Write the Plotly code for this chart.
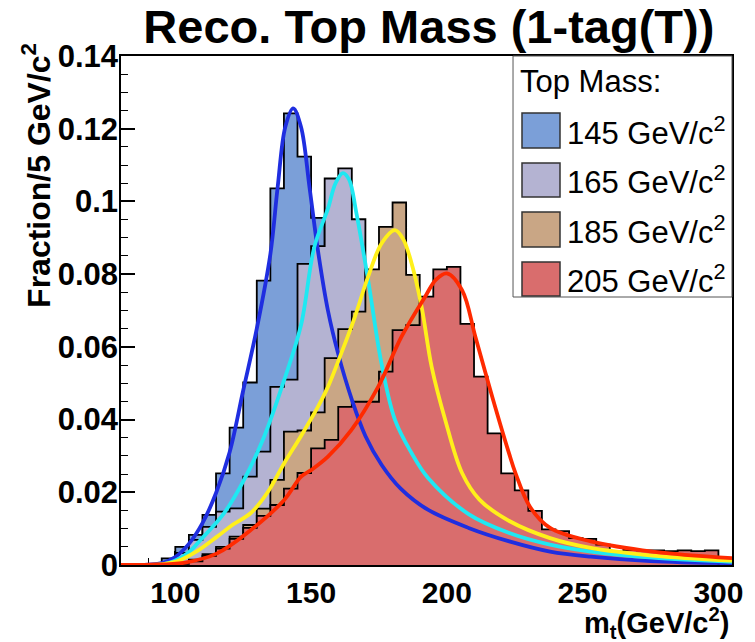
import plotly.graph_objects as go

# ---------------- data ----------------
bin_edges_start = 80
bin_width = 5
# bin contents (Fraction / 5 GeV), bins starting at 80, 85, ..., 295
h145 = [0, 0, 0.0003, 0.0018, 0.005, 0.0083, 0.0138, 0.0252, 0.0378, 0.0502,
        0.0782, 0.1036, 0.1242, 0.1123, 0.0955, 0.072, 0.055, 0.042, 0.031, 0.024,
        0.019, 0.0155, 0.013, 0.011, 0.009, 0.0075, 0.0062, 0.0052, 0.0044, 0.0037,
        0.0031, 0.0026, 0.0022, 0.0019, 0.0016, 0.0014, 0.0012, 0.001, 0.0009, 0.0008,
        0.0007, 0.0006, 0.0005, 0.0005]
h165 = [0, 0, 0, 0.0005, 0.0033, 0.0069, 0.0105, 0.0147, 0.0156, 0.0243,
        0.0312, 0.049, 0.051, 0.0828, 0.0877, 0.1063, 0.1091, 0.0951, 0.075, 0.055,
        0.041, 0.031, 0.024, 0.019, 0.0155, 0.0128, 0.0105, 0.0088, 0.0073, 0.0061,
        0.0051, 0.0043, 0.0036, 0.003, 0.0026, 0.0022, 0.0019, 0.0016, 0.0014, 0.0012,
        0.001, 0.0009, 0.0008, 0.0007]
h185 = [0, 0, 0, 0, 0.0005, 0.0015, 0.003, 0.005, 0.0078, 0.011,
        0.0155, 0.0234, 0.0367, 0.037, 0.042, 0.0569, 0.0649, 0.0697, 0.0813, 0.093,
        0.0997, 0.0798, 0.062, 0.046, 0.034, 0.026, 0.02, 0.0158, 0.0127, 0.0103,
        0.0085, 0.007, 0.0058, 0.0048, 0.004, 0.0034, 0.0029, 0.0025, 0.0021, 0.0018,
        0.0016, 0.0014, 0.0012, 0.0011]
h205 = [0, 0, 0, 0, 0.0003, 0.001, 0.0025, 0.0045, 0.0072, 0.0102,
        0.0135, 0.0165, 0.021, 0.0253, 0.0321, 0.0344, 0.0435, 0.0449, 0.0449, 0.0532,
        0.0646, 0.066, 0.0738, 0.0813, 0.082, 0.0663, 0.0518, 0.0362, 0.0252, 0.0205,
        0.0149, 0.0098, 0.0093, 0.0074, 0.0072, 0.0056, 0.0037, 0.0042, 0.004, 0.004,
        0.0038, 0.004, 0.0038, 0.004]

# fitted curves
f145_x = [80, 90, 95, 100, 105, 110, 115, 120, 125, 130, 135, 137.7, 140.5, 143.4, 146.3,
          149.4, 152.5, 156.2, 160, 165, 170, 176, 183, 193, 208, 223, 238, 253, 275, 305]
f145_y = [0, 0.0001, 0.0005, 0.0022, 0.0058, 0.0115, 0.0198, 0.031, 0.048, 0.065, 0.0855,
          0.104, 0.1205, 0.1256, 0.1205, 0.104, 0.0866, 0.07, 0.058, 0.0455, 0.0355, 0.0275,
          0.021, 0.0152, 0.0102, 0.0065, 0.0037, 0.0023, 0.0011, 0.0005]
f165_x = [80, 95, 99.4, 105, 109.3, 117.9, 125.3, 132.7, 140.1, 146.3, 151.2, 156.2, 159,
          161.7, 164, 166.7, 171, 175.9, 180.9, 187, 193, 208, 223, 238, 253, 275.7, 305]
f165_y = [0, 0.0002, 0.001, 0.0035, 0.0069, 0.0142, 0.0234, 0.0353, 0.0509, 0.066, 0.0875,
          0.098, 0.105, 0.1078, 0.106, 0.0967, 0.0784, 0.0555, 0.0399, 0.0308, 0.024, 0.014,
          0.0088, 0.0056, 0.0037, 0.002, 0.0009]
f185_x = [80, 95, 100.6, 108, 115.4, 121, 127.8, 134, 140.1, 146.3, 152.5, 156.2, 161.1, 166,
          171, 176, 180.9, 184, 187, 190.7, 194.4, 199.4, 205.6, 212, 223, 238, 253, 275.7, 305]
f185_y = [0, 0.0002, 0.001, 0.0038, 0.0078, 0.011, 0.0143, 0.02, 0.028, 0.0355, 0.0435, 0.049,
          0.0582, 0.068, 0.0793, 0.0885, 0.0921, 0.0895, 0.083, 0.071, 0.0545, 0.0399, 0.0253,
          0.018, 0.0121, 0.0074, 0.0047, 0.0026, 0.0012]
f205_x = [80, 90.7, 103, 115.4, 127.8, 140.1, 146.3, 150, 156.2, 164.8, 174.7, 183.3, 192, 196,
          200, 205.6, 210.5, 216.7, 222.9, 225.3, 230.6, 238, 253, 275.7, 305]
f205_y = [0, 0.0001, 0.0006, 0.0032, 0.0096, 0.0179, 0.0243, 0.0261, 0.0298, 0.0371, 0.049,
          0.0628, 0.0738, 0.0785, 0.0802, 0.0756, 0.0628, 0.0463, 0.0307, 0.0252, 0.016, 0.0102,
          0.0065, 0.0037, 0.0019]

labels = ["145 GeV/c<sup>2</sup>", "165 GeV/c<sup>2</sup>", "185 GeV/c<sup>2</sup>", "205 GeV/c<sup>2</sup>"]
fill_colors = ["#7b9fd8", "#b4b3d2", "#c9a685", "#d96d6d"]
curve_colors = ["#1f2ee0", "#1fe8f2", "#fff01a", "#ff2a00"]

hists = [h145, h165, h185, h205]
curves = [(f145_x, f145_y), (f165_x, f165_y), (f185_x, f185_y), (f205_x, f205_y)]

FONT = "Liberation Sans, Arial, Helvetica, sans-serif"

fig = go.Figure()

for h, fc, name in zip(hists, fill_colors, labels):
    edges = [bin_edges_start + i * bin_width for i in range(len(h) + 1)]
    xs = [edges[0]] + edges + [edges[-1]]
    ys = [0] + list(h) + [h[-1], 0]
    fig.add_trace(go.Scatter(x=xs, y=ys, mode="lines", line=dict(shape="hv", color="black", width=1.8),
                             fill="tozeroy", fillcolor=fc, name=name, showlegend=False,
                             hoverinfo="skip"))

for (cx, cy), cc in zip(curves, curve_colors):
    fig.add_trace(go.Scatter(x=cx, y=cy, mode="lines", line=dict(shape="spline", color=cc, width=3.8),
                             showlegend=False, hoverinfo="skip"))

# ---- legend (drawn manually in paper coordinates) ----
shapes = [dict(type="rect", xref="paper", yref="paper", x0=0.6416, x1=1.0, y0=0.5265, y1=1.0,
               line=dict(color="#555555", width=1), fillcolor="white", layer="above")]
annotations = [dict(text="Top Mass:", xref="paper", yref="paper", x=0.650, y=0.949,
                    xanchor="left", yanchor="middle", showarrow=False,
                    font=dict(family=FONT, size=31, color="black"))]
box_y = [(0.8193, 0.888), (0.723, 0.7898), (0.6248, 0.6935), (0.5285, 0.5953)]
text_y = [0.8536, 0.7564, 0.6591, 0.5619]
for (y0, y1), ty, fc, name in zip(box_y, text_y, fill_colors, labels):
    shapes.append(dict(type="rect", xref="paper", yref="paper", x0=0.6563, x1=0.7185, y0=y0, y1=y1,
                       line=dict(color="#333333", width=1.5), fillcolor=fc, layer="above"))
    annotations.append(dict(text=name, xref="paper", yref="paper", x=0.7265, y=ty,
                            xanchor="left", yanchor="middle", showarrow=False,
                            font=dict(family=FONT, size=31, color="black")))

# axis titles
annotations.append(dict(text="Fraction/5 GeV/c<sup>2</sup>", xref="paper", yref="paper",
                        x=-0.138, y=1.03, xanchor="center", yanchor="top", textangle=-90,
                        showarrow=False, font=dict(family=FONT, size=32, color="black", weight="bold")))
annotations.append(dict(text="m<sub>t</sub>(GeV/c<sup>2</sup>)", xref="paper", yref="paper",
                        x=0.9984, y=-0.114, xanchor="right", yanchor="middle",
                        showarrow=False, font=dict(family=FONT, size=29, color="black", weight="bold")))

fig.update_layout(
    width=755, height=642,
    margin=dict(l=121, r=23, t=56, b=77),
    paper_bgcolor="white", plot_bgcolor="white",
    title=dict(text="Reco. Top Mass (1-tag(T))", x=0.568, y=0.958, xref="container", yref="container",
               xanchor="center", yanchor="middle",
               font=dict(family=FONT, size=47, color="black", weight="bold")),
    shapes=shapes, annotations=annotations,
    showlegend=False,
)
fig.update_xaxes(range=[80, 305], tickvals=[100, 150, 200, 250, 300], ticks="inside", ticklen=14,
                 tickwidth=1.5, tickcolor="black", showgrid=False, zeroline=False,
                 showline=True, linecolor="black", linewidth=1.5, mirror=True, layer="below traces",
                 minor=dict(dtick=10, tick0=80, ticks="inside", ticklen=7, tickcolor="black", tickwidth=1.2),
                 tickfont=dict(family=FONT, size=30, color="black", weight="bold"))
fig.update_yaxes(range=[0, 0.14], dtick=0.02, tick0=0, ticks="inside", ticklen=14,
                 tickwidth=1.5, tickcolor="black", showgrid=False, zeroline=False,
                 showline=True, linecolor="black", linewidth=1.5, mirror=True, layer="below traces",
                 ticklabelstandoff=-5,
                 minor=dict(dtick=0.005, ticks="inside", ticklen=7, tickcolor="black", tickwidth=1.2),
                 tickfont=dict(family=FONT, size=31, color="black", weight="bold"))

fig.write_html("out.html")
